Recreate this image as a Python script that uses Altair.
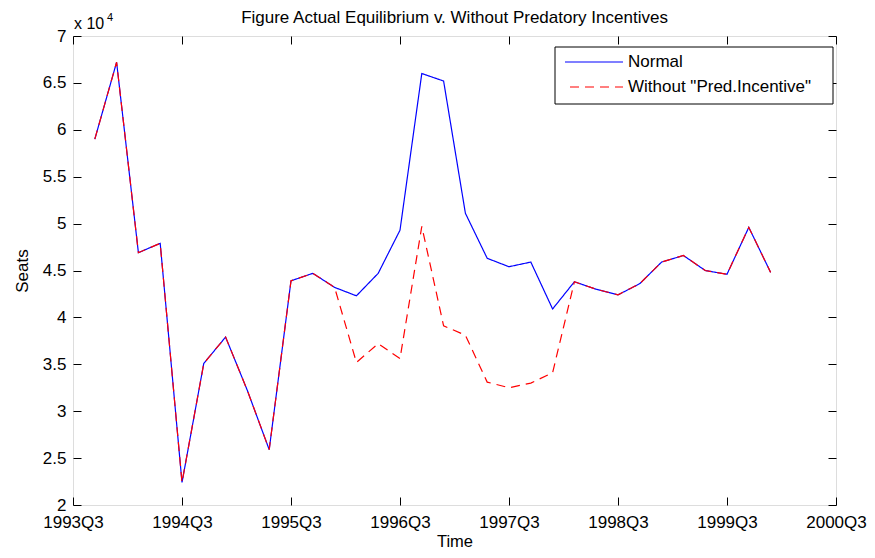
import altair as alt
import pandas as pd

# ---- data ----
quarter_idx = list(range(1, 33))
normal = [59000, 67200, 46900, 47900, 22400, 35100, 37900, 32200, 25900, 43900,
          44700, 43200, 42300, 44700, 49300, 66000, 65200, 51100, 46300, 45400,
          45900, 40900, 43800, 43000, 42400, 43600, 45900, 46600, 45000, 44600,
          49600, 44800]
without = [59000, 67200, 46900, 47900, 22400, 35100, 37900, 32200, 25900, 43900,
           44700, 43200, 35200, 37200, 35600, 49700, 39100, 38100, 33100, 32500,
           33000, 34100, 43800, 43000, 42400, 43600, 45900, 46600, 45000, 44600,
           49600, 44800]
series_names = ["Normal", 'Without "Pred.Incentive"']
series_colors = ["#0000ff", "#ff0000"]
xtick_vals = [0, 5, 10, 15, 20, 25, 30, 35]
xtick_labels = ["1993Q3", "1994Q3", "1995Q3", "1996Q3", "1997Q3", "1998Q3", "1999Q3", "2000Q3"]
ytick_vals = [20000, 25000, 30000, 35000, 40000, 45000, 50000, 55000, 60000, 65000, 70000]
exp_base = ["x 10"]
exp_power = ["4"]
title_text = ["Figure Actual Equilibrium v. Without Predatory Incentives"]

df = pd.DataFrame({
    "t": quarter_idx + quarter_idx,
    "seats": normal + without,
    "series": [series_names[0]] * len(normal) + [series_names[1]] * len(without),
})

FONT = "Liberation Sans"
W, H = 763, 469
label_expr = "[" + ",".join("'%s'" % l for l in xtick_labels) + "][round(datum.value/5)]"

x_scale = alt.Scale(domain=[0, 35], nice=False, zero=False)
y_scale = alt.Scale(domain=[20000, 70000], nice=False, zero=False)

lines = alt.Chart(df).mark_line(strokeWidth=1.2, clip=True).encode(
    x=alt.X("t:Q", scale=x_scale, axis=alt.Axis(
        orient="bottom", values=xtick_vals, labelExpr=label_expr,
        tickSize=8, offset=-8, domain=False, grid=False, labelPadding=9,
        labelFlush=False, labelOverlap=False,
        labelFont=FONT, labelFontSize=17, labelColor="black", tickColor="black",
        labelBaseline="top",
        title="Time", titleFont=FONT, titleFontSize=16.5, titleFontWeight="normal",
        titleColor="black", titleX=W / 2, titleY=49, titleBaseline="alphabetic")),
    y=alt.Y("seats:Q", scale=y_scale, axis=alt.Axis(
        orient="left", values=ytick_vals, labelExpr="format(datum.value/10000, '~g')",
        tickSize=8, offset=-8, domain=False, grid=False, labelPadding=7,
        labelFlush=False, labelOverlap=False,
        labelFont=FONT, labelFontSize=17, labelColor="black", tickColor="black",
        title="Seats", titleFont=FONT, titleFontSize=17, titleFontWeight="normal",
        titleColor="black", titleX=-59, titleY=H / 2, titleBaseline="middle",
        titleAngle=270)),
    color=alt.Color("series:N", scale=alt.Scale(domain=series_names, range=series_colors),
                    legend=None),
    strokeDash=alt.StrokeDash("series:N", scale=alt.Scale(domain=series_names, range=[[1, 0], [9, 6]]),
                              legend=None),
)

frame = alt.Chart(df).mark_line(opacity=0).encode(
    x=alt.X("t:Q", scale=x_scale, axis=alt.Axis(
        orient="top", values=xtick_vals, labels=False, tickSize=8, offset=-8,
        domain=False, grid=False, title=None, tickColor="black")),
    y=alt.Y("seats:Q", scale=y_scale, axis=alt.Axis(
        orient="right", values=ytick_vals, labels=False, tickSize=8, offset=-8,
        domain=False, grid=False, title=None, tickColor="black")),
)

# exponent annotation and title
exp1 = alt.Chart(pd.DataFrame({"txt": exp_base})).mark_text(
    font=FONT, fontSize=16, align="left", baseline="alphabetic", color="black"
).encode(x=alt.value(1), y=alt.value(-7), text="txt:N")
exp2 = alt.Chart(pd.DataFrame({"txt": exp_power})).mark_text(
    font=FONT, fontSize=11, align="left", baseline="alphabetic", color="black"
).encode(x=alt.value(34), y=alt.value(-15), text="txt:N")
title = alt.Chart(pd.DataFrame({"txt": title_text})).mark_text(
    font=FONT, fontSize=17, align="center", baseline="alphabetic", color="black"
).encode(x=alt.value(W / 2), y=alt.value(-13), text="txt:N")

# legend box (MATLAB style)
leg_df = pd.DataFrame({"series": series_names})
leg_box = alt.Chart(pd.DataFrame({"k": [0]})).mark_rect(
    fill="white", stroke="black", strokeWidth=1
).encode(x=alt.value(482), x2=alt.value(760), y=alt.value(11), y2=alt.value(68))
leg_line1 = alt.Chart(leg_df.iloc[[0]]).mark_rule(
    color=series_colors[0], strokeWidth=1.2
).encode(x=alt.value(492), x2=alt.value(550), y=alt.value(26))
leg_line2 = alt.Chart(leg_df.iloc[[1]]).mark_rule(
    color=series_colors[1], strokeWidth=1.2, strokeDash=[9, 6]
).encode(x=alt.value(497), x2=alt.value(550), y=alt.value(51))
leg_txt1 = alt.Chart(leg_df.iloc[[0]]).mark_text(
    font=FONT, fontSize=17, align="left", baseline="middle", color="black"
).encode(x=alt.value(555), y=alt.value(26), text="series:N")
leg_txt2 = alt.Chart(leg_df.iloc[[1]]).mark_text(
    font=FONT, fontSize=17, align="left", baseline="middle", color="black"
).encode(x=alt.value(555), y=alt.value(51), text="series:N")

chart = alt.layer(
    lines, frame, exp1, exp2, title,
    leg_box, leg_line1, leg_line2, leg_txt1, leg_txt2
).resolve_axis(
    x="independent", y="independent"
).properties(
    width=W, height=H,
    autosize=alt.AutoSizeParams(type="none"),
    padding={"left": 65, "top": 28, "right": 31, "bottom": 45},
).configure_view(stroke="black", strokeWidth=1).configure(background="white")

chart.save("out.html", embed_options={"renderer": "svg", "actions": False})
